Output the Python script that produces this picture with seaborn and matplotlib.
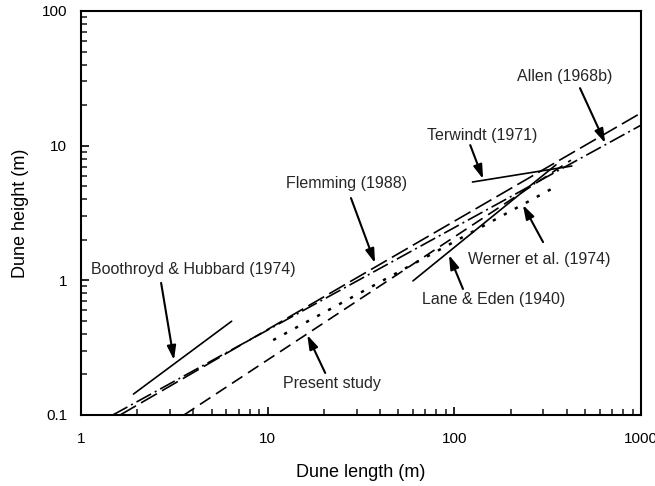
import matplotlib
matplotlib.use("Agg")
import matplotlib.pyplot as plt
import seaborn as sns
import pandas as pd
import numpy as np

# ---- data ----
boothroyd_x = [1.91, 6.41]
boothroyd_y = [0.143, 0.497]
flemming_x = [1.62, 1000]
flemming_y = [0.1, 17.5]
allen_x = [1.48, 1000]
allen_y = [0.1, 14.2]
present_x = [3.56, 421]
present_y = [0.1, 7.8]
werner_x = [10.7, 346]
werner_y = [0.36, 4.93]
lane_x = [60, 350]
lane_y = [0.99, 7.2]
terwindt_x = [125, 426]
terwindt_y = [5.37, 7.06]

x_ticks = [1, 10, 100, 1000]
x_tick_labels = ["1", "10", "100", "1000"]
y_ticks = [0.1, 1, 10, 100]
y_tick_labels = ["0.1", "1", "10", "100"]

sns.set_theme(style="white")
plt.rcParams["font.family"] = ["Liberation Sans", "DejaVu Sans"]

fig = plt.figure(figsize=(6.55, 4.86), dpi=100)
ax = fig.add_axes([0.1237, 0.1461, 0.855, 0.8313])

lw = 1.2
series = [
    ("Boothroyd", boothroyd_x, boothroyd_y, "-"),
    ("Flemming", flemming_x, flemming_y, (0, (11, 3.5))),
    ("Allen", allen_x, allen_y, (0, (10, 2.5, 1.2, 2.5))),
    ("Present", present_x, present_y, (0, (7.5, 4))),
    ("Werner", werner_x, werner_y, (0, (1.3, 3.7))),
    ("Lane", lane_x, lane_y, "-"),
    ("Terwindt", terwindt_x, terwindt_y, "-"),
]
for name, xs, ys, ls in series:
    df = pd.DataFrame({"x": xs, "y": ys})
    lw_i = 1.8 if name == "Werner" else lw
    sns.lineplot(data=df, x="x", y="y", ax=ax, color="black",
                 linestyle=ls, linewidth=lw_i, estimator=None, sort=False)

ax.set_xscale("log")
ax.set_yscale("log")
ax.set_xlim(1, 1000)
ax.set_ylim(0.1, 100)
ax.set_xticks(x_ticks)
ax.set_xticklabels(x_tick_labels)
ax.set_yticks(y_ticks)
ax.set_yticklabels(y_tick_labels)

for s in ["top", "right", "left", "bottom"]:
    ax.spines[s].set_color("black")
    ax.spines[s].set_linewidth(1.5)

ax.tick_params(axis="both", which="major", direction="in", length=6, width=1.2,
               labelsize=11, pad=10, colors="black",
               left=True, bottom=True, top=False, right=False)
ax.tick_params(axis="both", which="minor", direction="in", length=4, width=1.2,
               left=True, bottom=True, top=False, right=False)
ax.tick_params(axis="x", which="major", pad=12)

ax.set_xlabel("Dune length (m)", fontsize=13, labelpad=13, color="black")
ax.set_ylabel("Dune height (m)", fontsize=13, labelpad=9, color="black")

fs = 11.5
arrow = dict(arrowstyle="-|>,head_length=0.7,head_width=0.22", color="black",
             lw=1.5, shrinkA=0, shrinkB=0)

ax.text(0.018, 0.359, "Boothroyd & Hubbard (1974)", transform=ax.transAxes,
        fontsize=fs, ha="left", va="center")
ax.text(0.582, 0.574, "Flemming (1988)", transform=ax.transAxes,
        fontsize=fs, ha="right", va="center")
ax.text(0.618, 0.693, "Terwindt (1971)", transform=ax.transAxes,
        fontsize=fs, ha="left", va="center")
ax.text(0.779, 0.837, "Allen (1968b)", transform=ax.transAxes,
        fontsize=fs, ha="left", va="center")
ax.text(0.691, 0.384, "Werner et al. (1974)", transform=ax.transAxes,
        fontsize=fs, ha="left", va="center")
ax.text(0.609, 0.285, "Lane & Eden (1940)", transform=ax.transAxes,
        fontsize=fs, ha="left", va="center")
ax.text(0.361, 0.079, "Present study", transform=ax.transAxes,
        fontsize=fs, ha="left", va="center")

arrows = [
    ((0.143, 0.327), (0.166, 0.136)),
    ((0.482, 0.537), (0.525, 0.376)),
    ((0.695, 0.668), (0.718, 0.584)),
    ((0.891, 0.809), (0.936, 0.673)),
    ((0.825, 0.428), (0.789, 0.520)),
    ((0.682, 0.312), (0.657, 0.396)),
    ((0.436, 0.104), (0.404, 0.198)),
]
for tail, tip in arrows:
    ax.annotate("", xy=tip, xytext=tail, xycoords="axes fraction",
                textcoords="axes fraction", arrowprops=arrow)

fig.savefig("out.png", dpi=100)
